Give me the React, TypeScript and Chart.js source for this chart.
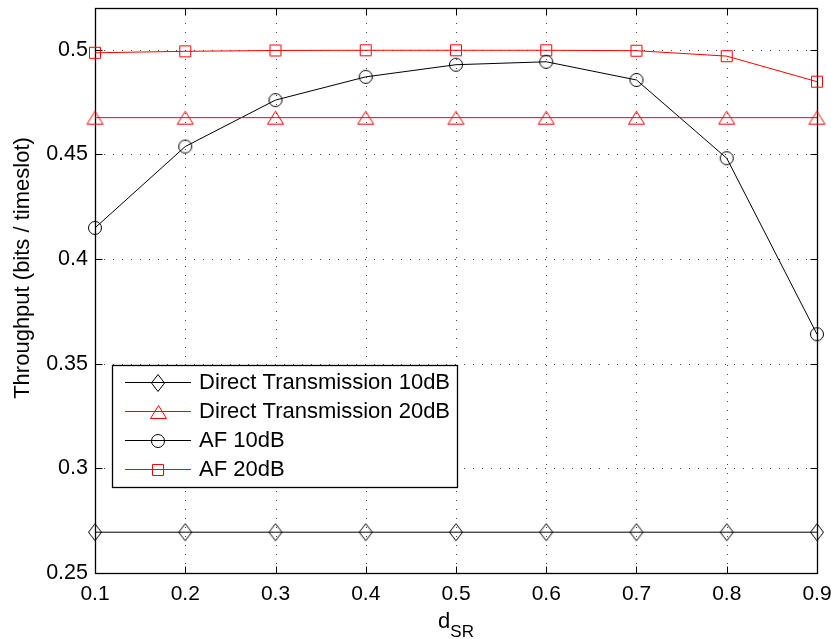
import React, { useEffect, useRef } from "react";
import { Chart, registerables } from "chart.js";

Chart.register(...registerables);

// Relay position d_SR (normalised source–relay distance)
const dSR = [0.1, 0.2, 0.3, 0.4, 0.5, 0.6, 0.7, 0.8, 0.9];

// Throughput in bits / timeslot
const direct10 = [0.2695, 0.2695, 0.2695, 0.2695, 0.2695, 0.2695, 0.2695, 0.2695, 0.2695];
const direct20 = [0.4676, 0.4676, 0.4676, 0.4676, 0.4676, 0.4676, 0.4676, 0.4676, 0.4676];
const af10 = [0.4149, 0.4538, 0.476, 0.4871, 0.4929, 0.4943, 0.4856, 0.4482, 0.3641];
const af20 = [0.4986, 0.4993, 0.4997, 0.4998, 0.4998, 0.4998, 0.4996, 0.497, 0.4848];

const xTicks = [0.1, 0.2, 0.3, 0.4, 0.5, 0.6, 0.7, 0.8, 0.9];
const yTicks = [0.25, 0.3, 0.35, 0.4, 0.45, 0.5];

const seriesNames = [
  "Direct Transmission 10dB",
  "Direct Transmission 20dB",
  "AF 10dB",
  "AF 20dB",
];

const FONT = '"Liberation Sans", Arial, Helvetica, sans-serif';
const BLACK = "#000000";
const RED = "#ff0000";

type MarkerKind = "diamond" | "triangle" | "circle" | "square";

function makeMarker(kind: MarkerKind, color: string): HTMLCanvasElement {
  const dims: Record<MarkerKind, [number, number]> = {
    diamond: [13, 17],
    triangle: [16, 13],
    circle: [13, 13],
    square: [11, 11],
  };
  const [w, h] = dims[kind];
  const c = document.createElement("canvas");
  c.width = w + 3;
  c.height = h + 3;
  const ctx = c.getContext("2d")!;
  ctx.strokeStyle = color;
  ctx.lineWidth = 1;
  const ox = 1.5;
  const oy = 1.5;
  ctx.beginPath();
  if (kind === "diamond") {
    ctx.moveTo(ox + w / 2, oy);
    ctx.lineTo(ox + w, oy + h / 2);
    ctx.lineTo(ox + w / 2, oy + h);
    ctx.lineTo(ox, oy + h / 2);
    ctx.closePath();
  } else if (kind === "triangle") {
    ctx.moveTo(ox + w / 2, oy);
    ctx.lineTo(ox + w, oy + h);
    ctx.lineTo(ox, oy + h);
    ctx.closePath();
  } else if (kind === "circle") {
    ctx.arc(ox + w / 2, oy + h / 2, w / 2, 0, Math.PI * 2);
  } else {
    ctx.rect(ox, oy, w, h);
  }
  ctx.stroke();
  return c;
}

export default function App() {
  const canvasRef = useRef<HTMLCanvasElement | null>(null);

  useEffect(() => {
    const canvas = canvasRef.current;
    if (!canvas) return;

    const markers = [
      makeMarker("diamond", BLACK),
      makeMarker("triangle", RED),
      makeMarker("circle", BLACK),
      makeMarker("square", RED),
    ];
    const colors = [BLACK, RED, BLACK, RED];
    const values = [direct10, direct20, af10, af20];

    // MATLAB-style axes: dotted grid, boxed frame with inward ticks
    const axesFrame = {
      id: "axesFrame",
      beforeDatasetsDraw(chart: any) {
        const { ctx, chartArea: a, scales } = chart;
        const xs = scales.x;
        const ys = scales.y;
        ctx.save();
        ctx.lineWidth = 1;
        ctx.strokeStyle = "#444";
        ctx.setLineDash([1, 8]);
        xTicks.forEach((v) => {
          const px = Math.round(xs.getPixelForValue(v)) + 0.5;
          if (px <= a.left + 1 || px >= a.right - 1) return;
          ctx.beginPath();
          ctx.moveTo(px, a.bottom);
          ctx.lineTo(px, a.top);
          ctx.stroke();
        });
        yTicks.forEach((v) => {
          const py = Math.round(ys.getPixelForValue(v)) + 0.5;
          if (py <= a.top + 1 || py >= a.bottom - 1) return;
          ctx.beginPath();
          ctx.moveTo(a.left, py);
          ctx.lineTo(a.right, py);
          ctx.stroke();
        });
        ctx.setLineDash([]);
        ctx.strokeStyle = BLACK;
        const L = Math.round(a.left) + 0.5;
        const R = Math.round(a.right) + 0.5;
        const T = Math.round(a.top) + 0.5;
        const B = Math.round(a.bottom) + 0.5;
        const tl = 7;
        ctx.beginPath();
        xTicks.forEach((v) => {
          const px = Math.round(xs.getPixelForValue(v)) + 0.5;
          ctx.moveTo(px, B);
          ctx.lineTo(px, B - tl);
          ctx.moveTo(px, T);
          ctx.lineTo(px, T + tl);
        });
        yTicks.forEach((v) => {
          const py = Math.round(ys.getPixelForValue(v)) + 0.5;
          ctx.moveTo(L, py);
          ctx.lineTo(L + tl, py);
          ctx.moveTo(R, py);
          ctx.lineTo(R - tl, py);
        });
        ctx.stroke();
        ctx.lineWidth = 1.3;
        ctx.strokeRect(L, T, R - L, B - T);
        ctx.restore();
      },
      afterDatasetsDraw(chart: any) {
        const { ctx, chartArea: a } = chart;
        ctx.save();
        // axis titles
        ctx.fillStyle = BLACK;
        ctx.textBaseline = "alphabetic";
        ctx.font = `22px ${FONT}`;
        const dW = ctx.measureText("d").width;
        ctx.font = `17px ${FONT}`;
        const srW = ctx.measureText("SR").width;
        const cx = (a.left + a.right) / 2;
        const x0 = cx - (dW + srW) / 2;
        ctx.font = `22px ${FONT}`;
        ctx.textAlign = "left";
        ctx.fillText("d", x0, 628);
        ctx.font = `17px ${FONT}`;
        ctx.fillText("SR", x0 + dW, 637);

        ctx.save();
        ctx.translate(29, 268);
        ctx.rotate(-Math.PI / 2);
        ctx.font = `22px ${FONT}`;
        ctx.textAlign = "center";
        ctx.fillText("Throughput (bits / timeslot)", 0, 0);
        ctx.restore();

        // legend box
        const bx = 112.5;
        const by = 365.5;
        const bw = 345;
        const bh = 122;
        ctx.fillStyle = "#ffffff";
        ctx.fillRect(bx, by, bw, bh);
        ctx.strokeStyle = BLACK;
        ctx.lineWidth = 1.3;
        ctx.strokeRect(bx, by, bw, bh);
        const rows = [382, 411, 440, 469];
        ctx.font = `22px ${FONT}`;
        ctx.textAlign = "left";
        ctx.textBaseline = "middle";
        rows.forEach((ry, i) => {
          ctx.strokeStyle = colors[i];
          ctx.lineWidth = 1;
          ctx.beginPath();
          ctx.moveTo(125, ry + 0.5);
          ctx.lineTo(191, ry + 0.5);
          ctx.stroke();
          const m = markers[i];
          ctx.drawImage(m, Math.round(158 - m.width / 2), Math.round(ry + 0.5 - m.height / 2));
          ctx.fillStyle = BLACK;
          ctx.fillText(seriesNames[i], 199, ry + 1);
        });
        ctx.restore();
      },
    };

    const chart = new Chart(canvas, {
      type: "line",
      data: {
        datasets: values.map((vals, i) => ({
          label: seriesNames[i],
          data: dSR.map((x, j) => ({ x, y: vals[j] })),
          borderColor: colors[i],
          backgroundColor: colors[i],
          borderWidth: 1,
          pointStyle: markers[i] as any,
          pointRadius: 7,
          pointHoverRadius: 7,
          fill: false,
          tension: 0,
          clip: false as any,
        })),
      },
      options: {
        animation: false,
        responsive: false,
        events: [],
        layout: { padding: { top: 5, right: 14, left: 0, bottom: 0 } },
        plugins: {
          legend: { display: false },
          tooltip: { enabled: false },
          title: { display: false },
        },
        scales: {
          x: {
            type: "linear",
            min: 0.1,
            max: 0.9,
            grid: { display: false, drawTicks: false },
            border: { display: false },
            afterBuildTicks: (axis: any) => {
              axis.ticks = xTicks.map((v) => ({ value: v }));
            },
            afterFit: (axis: any) => {
              axis.height = 66;
              axis.paddingLeft = 0;
              axis.paddingRight = 0;
            },
            ticks: {
              color: BLACK,
              padding: 9,
              maxRotation: 0,
              autoSkip: false,
              font: { family: FONT, size: 21 },
              callback: (v: any) => String(+Number(v).toFixed(2)),
            },
          },
          y: {
            type: "linear",
            min: 0.25,
            max: 0.52,
            grid: { display: false, drawTicks: false },
            border: { display: false },
            afterBuildTicks: (axis: any) => {
              axis.ticks = yTicks.map((v) => ({ value: v }));
            },
            afterFit: (axis: any) => {
              axis.width = 95;
              axis.paddingTop = 0;
              axis.paddingBottom = 0;
            },
            ticks: {
              color: BLACK,
              padding: 7,
              autoSkip: false,
              font: { family: FONT, size: 21.5 },
              callback: (v: any) => String(+Number(v).toFixed(2)),
            },
          },
        },
      },
      plugins: [axesFrame],
    });

    return () => chart.destroy();
  }, []);

  return (
    <div style={{ position: "fixed", left: 0, top: 0, width: 831, height: 639, background: "#fff" }}>
      <canvas ref={canvasRef} width={831} height={639} style={{ display: "block" }} />
    </div>
  );
}
